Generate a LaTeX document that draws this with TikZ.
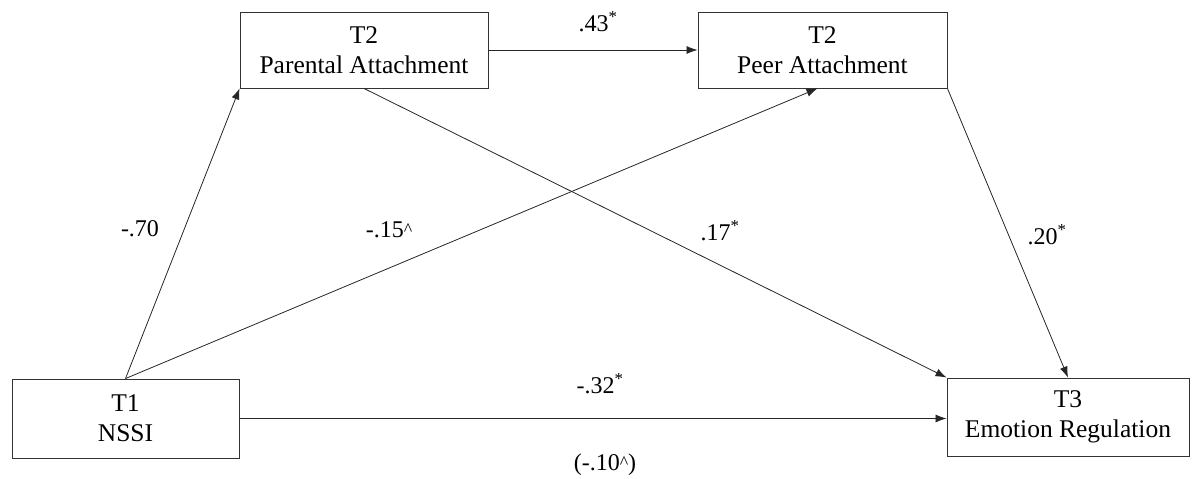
\documentclass[tikz,border=0pt]{standalone}
\usepackage{fontspec}
\setmainfont{Liberation Serif}
\usetikzlibrary{arrows.meta}
\newcommand{\smallcaret}{\raisebox{0.25ex}{\fontsize{18}{18}\selectfont\textasciicircum}}
\begin{document}
\begin{tikzpicture}[x=1pt,y=-1pt,
  box/.style={draw=black!80, line width=0.9pt, rectangle, inner sep=0pt, align=center,
    font=\fontsize{25.5}{30}\selectfont},
  path/.style={draw=black!85, line width=0.8pt, -{Latex[length=11pt,width=8pt]}},
  lbl/.style={font=\fontsize{24}{28}\selectfont, inner sep=0pt}]
\useasboundingbox (0,0) rectangle (1192,479);
\node[box, minimum width=227pt, minimum height=79pt] (nssi) at (125.5,418.5) {T1\\NSSI};
\node[box, minimum width=248pt, minimum height=76pt] (par) at (364,50) {T2\\Parental Attachment};
\node[box, minimum width=249pt, minimum height=76pt] (peer) at (822.5,50) {T2\\Peer Attachment};
\node[box, minimum width=242pt, minimum height=78pt] (emo) at (1068,417) {T3\\Emotion Regulation};
\coordinate (peerin) at ([xshift=-5pt]peer.south);
\draw[path] (nssi.north) -- (par.south west);
\draw[path] (nssi.north) -- (peerin);
\draw[path] (par.east) -- (peer.west);
\draw[path] (par.south) -- (emo.north west);
\draw[path] (peer.south east) -- (emo.north);
\draw[path] (nssi.east) -- (nssi.east -| emo.west);
\node[lbl] (l43) at (598,22) {.43\textsuperscript{*}};
\node[lbl] (l70) at (140,229) {-.70};
\node[lbl] (l15) at (389,230) {-.15\smallcaret};
\node[lbl] (l17) at (720,231) {.17\textsuperscript{*}};
\node[lbl] (l20) at (1047,235) {.20\textsuperscript{*}};
\node[lbl] (l32) at (600,384) {-.32\textsuperscript{*}};
\node[lbl] (l10) at (605,465) {(-.10\smallcaret)};
\end{tikzpicture}
\end{document}
